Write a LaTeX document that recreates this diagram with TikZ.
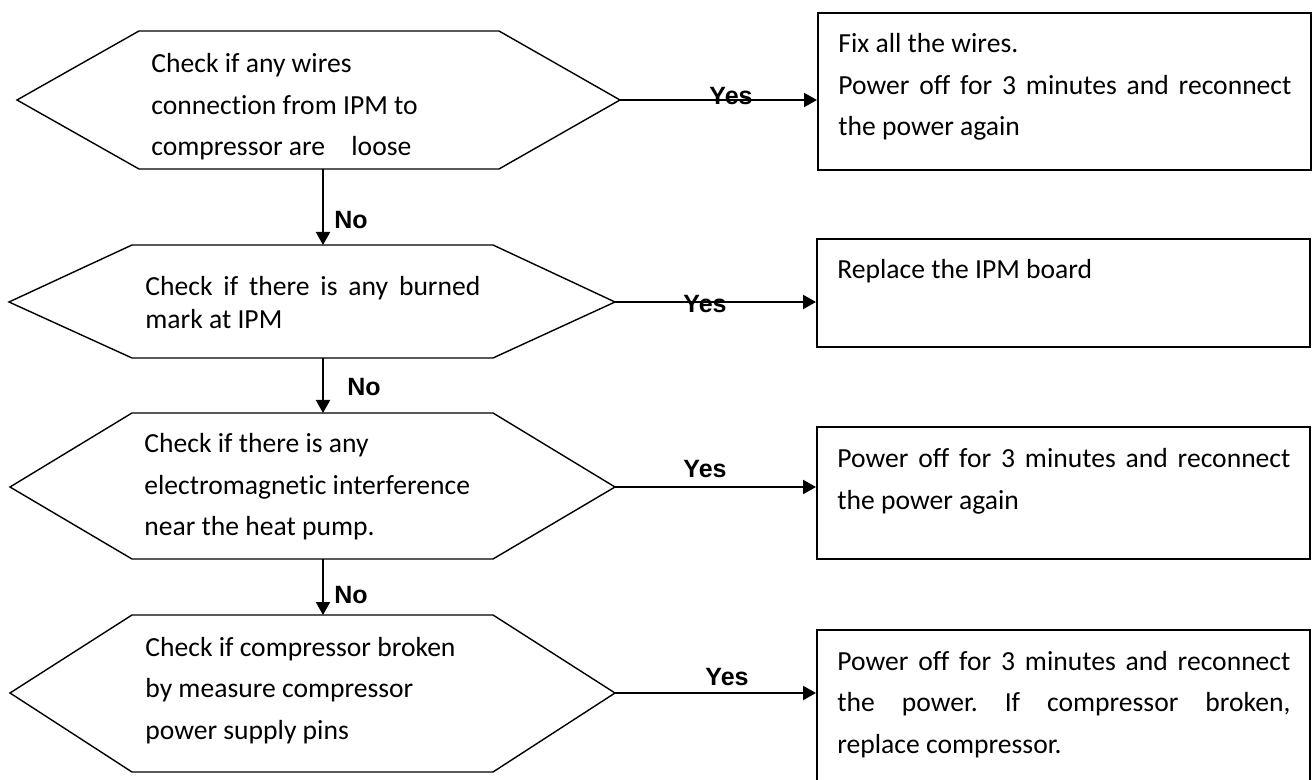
\documentclass[tikz,border=0pt]{standalone}
\usepackage{fontspec}
\setmainfont{Carlito}[Ligatures=NoCommon]
\newfontfamily\labelfont{Liberation Sans}
\usetikzlibrary{arrows.meta}
\tolerance=9999
\hyphenpenalty=10000
\frenchspacing

\begin{document}
\begin{tikzpicture}[x=0.5pt, y=-0.5pt,
		hexline/.style={line width=0.7pt},
		actbox/.style={draw, line width=0.85pt, anchor=north west, inner sep=0pt, minimum width=246.5pt},
		txt/.style={anchor=base west, inner sep=0pt, align=justify, font=\fontsize{13.8}{20.75}\selectfont},
		flow/.style={line width=1.1pt, -{Triangle[length=6.5pt, width=7pt]}},
		lbl/.style={inner sep=0pt, font=\labelfont\bfseries\fontsize{12.5}{15}\selectfont}]

			\useasboundingbox (0,0) rectangle (1312,780);

			% Draw the first question
			\draw[hexline] (17,100) coordinate (q1w) -- (139,31) -- (499,31) -- (620,100) coordinate (q1e)
			-- (499,169) -- (139,169) -- cycle;
			\coordinate (q1s) at (323,169);
			\node[txt, text width=180pt] (q1) at (151,73)
			{Check if any wires\\connection from IPM to\\compressor are\hspace*{10pt} loose};

			% Draw the second question
			\draw[hexline] (9,302) coordinate (q2w) -- (132,245) -- (493,245) -- (615,302) coordinate (q2e)
			-- (493,358) -- (132,358) -- cycle;
			\coordinate (q2n) at (323,245);
			\coordinate (q2s) at (323,358);
			\node[txt, text width=167.5pt, font=\fontsize{13.8}{16.5}\selectfont] (q2) at (145,296)
			{Check if there is any burned mark at IPM};

			% Draw the third question
			\draw[hexline] (10,487) coordinate (q3w) -- (132,413) -- (493,413) -- (615,487) coordinate (q3e)
			-- (493,559) -- (132,559) -- cycle;
			\coordinate (q3n) at (323,413);
			\coordinate (q3s) at (323,559);
			\node[txt, text width=180pt] (q3) at (144,453)
			{Check if there is any\\electromagnetic interference\\near the heat pump.};

			% Draw the fourth question
			\draw[hexline] (10,693) coordinate (q4w) -- (132,615) -- (493,615) -- (615,693) coordinate (q4e)
			-- (493,772) -- (132,772) -- cycle;
			\coordinate (q4n) at (323,615);
			\node[txt, text width=180pt] (q4) at (145,656)
			{Check if compressor broken\\by measure compressor\\power supply pins};

			% Draw the boxes on the right
			\node[actbox, minimum height=78.5pt] (a1) at (817,12) {};
			\node[actbox, minimum height=54pt] (a2) at (816,238) {};
			\node[actbox, minimum height=66pt] (a3) at (816,426) {};
			\node[actbox, minimum height=85.5pt] (a4) at (816,629) {};

			\node[txt, text width=226.5pt] (t1) at (838,53)
			{Fix all the wires.\\Power off for 3 minutes and reconnect the power again};
			\node[txt, text width=226.5pt] (t2) at (837,279) {Replace the IPM board};
			\node[txt, text width=226.5pt] (t3) at (837,468)
			{Power off for 3 minutes and reconnect the power again};
			\node[txt, text width=226.5pt] (t4) at (837,670)
			{Power off for 3 minutes and reconnect the power. If compressor broken,\linebreak replace compressor.};

			% Draw the No arrows
			\draw[flow] (q1s) -- (q2n);
			\draw[flow] (q2s) -- (q3n);
			\draw[flow] (q3s) -- (q4n);
			\node[lbl] (no1) at (351,220) {No};
			\node[lbl] (no2) at (364,387) {No};
			\node[lbl] (no3) at (351,595) {No};

			% Draw the Yes arrows
			\draw[flow] (q1e) -- (q1e -| a1.west);
			\draw[flow] (q2e) -- (q2e -| a2.west);
			\draw[flow] (q3e) -- (q3e -| a3.west);
			\draw[flow] (q4e) -- (q4e -| a4.west);
			\node[lbl] (yes1) at (731,96) {Yes};
			\node[lbl] (yes2) at (705,304) {Yes};
			\node[lbl] (yes3) at (705,469) {Yes};
			\node[lbl] (yes4) at (727,677) {Yes};

		\end{tikzpicture}
\end{document}
